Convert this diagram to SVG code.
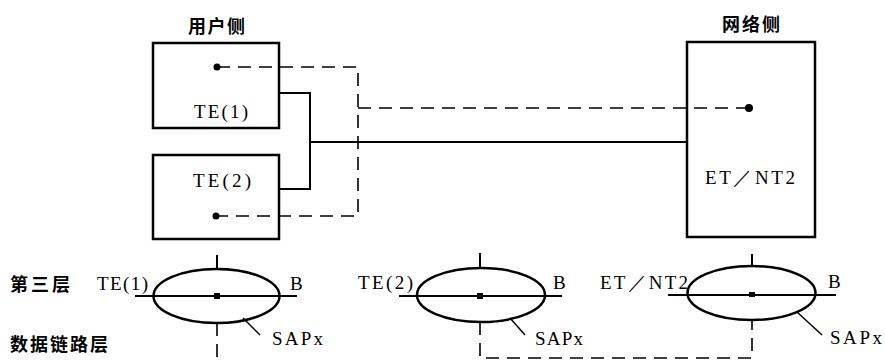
<svg xmlns="http://www.w3.org/2000/svg" width="885" height="360" viewBox="0 0 885 360">
<style>
.box{fill:#fff;stroke:#000;stroke-width:2.5}
.ell{fill:none;stroke:#000;stroke-width:2.5}
.solid{fill:none;stroke:#000;stroke-width:2}
.thin{fill:none;stroke:#000;stroke-width:1.5}
.dash{fill:none;stroke:#000;stroke-width:1.6;stroke-dasharray:13 8}
.cn{font-family:"Noto Sans CJK SC","Noto Sans CJK JP",sans-serif;font-weight:bold;font-size:18px;fill:#000}
.lt{font-family:'Liberation Serif','Times New Roman',serif;font-size:19px;fill:#000}
.dot{fill:#000}
</style>
<rect width="885" height="360" fill="#fff"/>
<text class="cn" x="188" y="33" textLength="57" lengthAdjust="spacing">用户侧</text>
<text class="cn" x="722" y="31" textLength="58" lengthAdjust="spacing">网络侧</text>
<text class="cn" x="10" y="291" textLength="60" lengthAdjust="spacing">第三层</text>
<text class="cn" x="10" y="351" textLength="98" lengthAdjust="spacing">数据链路层</text>

<g id="te1">
<rect class="box" x="153" y="43" width="126" height="85"/>
<text class="lt" x="194" y="118" textLength="54" lengthAdjust="spacing">TE(1)</text>
</g>
<g id="te2">
<rect class="box" x="153" y="155" width="126" height="84"/>
<text class="lt" x="193" y="187" textLength="58" lengthAdjust="spacing">TE(2)</text>
</g>
<g id="etnt2">
<rect class="box" x="687" y="42" width="128" height="195"/>
<text class="lt" x="705" y="184" textLength="90" lengthAdjust="spacing">ET／NT2</text>
</g>

<g id="connectors">
<polyline class="solid" points="279,93 310,93 310,189 279,189"/>
<line class="solid" x1="310" y1="142" x2="687" y2="142"/>
<polyline class="dash" points="217,67 358,67 358,216 216,216"/>
<line class="dash" x1="358" y1="108" x2="749" y2="108"/>
<circle class="dot" cx="217" cy="67" r="3.5"/>
<circle class="dot" cx="216" cy="216" r="3.5"/>
<circle class="dot" cx="749" cy="108" r="4"/>
<line class="dash" x1="217" y1="323" x2="217" y2="360"/>
<polyline class="dash" points="480,322 480,358 752,358 752,320"/>
</g>

<g id="layer-te1">
<ellipse class="ell" cx="216.5" cy="296" rx="63" ry="27"/>
<line class="solid" x1="135" y1="296" x2="297" y2="296"/>
<line class="solid" x1="217" y1="255" x2="217" y2="269"/>
<rect class="dot" x="214" y="293" width="6" height="6"/>
<line class="thin" x1="243" y1="318" x2="260" y2="335"/>
<text class="lt" x="97" y="290" textLength="51" lengthAdjust="spacing">TE(1)</text>
<text class="lt" x="290" y="290">B</text>
<text class="lt" x="272" y="345" textLength="51" lengthAdjust="spacing">SAPx</text>
</g>
<g id="layer-te2">
<ellipse class="ell" cx="481" cy="295" rx="64" ry="27"/>
<line class="solid" x1="399" y1="296" x2="562" y2="296"/>
<line class="solid" x1="480" y1="253" x2="480" y2="268"/>
<rect class="dot" x="477" y="293" width="6" height="6"/>
<line class="thin" x1="510" y1="318" x2="525" y2="335"/>
<text class="lt" x="358" y="289" textLength="55" lengthAdjust="spacing">TE(2)</text>
<text class="lt" x="553" y="289">B</text>
<text class="lt" x="535" y="345" textLength="48" lengthAdjust="spacing">SAPx</text>
</g>
<g id="layer-et">
<ellipse class="ell" cx="751.5" cy="293" rx="64" ry="27"/>
<line class="solid" x1="668" y1="295" x2="836" y2="295"/>
<line class="solid" x1="752" y1="254" x2="752" y2="266"/>
<rect class="dot" x="749" y="292" width="6" height="5"/>
<line class="thin" x1="797" y1="312" x2="822" y2="335"/>
<text class="lt" x="600" y="289" textLength="88" lengthAdjust="spacing">ET／NT2</text>
<text class="lt" x="828" y="288">B</text>
<text class="lt" x="830" y="344" textLength="52" lengthAdjust="spacing">SAPx</text>
</g>
</svg>
